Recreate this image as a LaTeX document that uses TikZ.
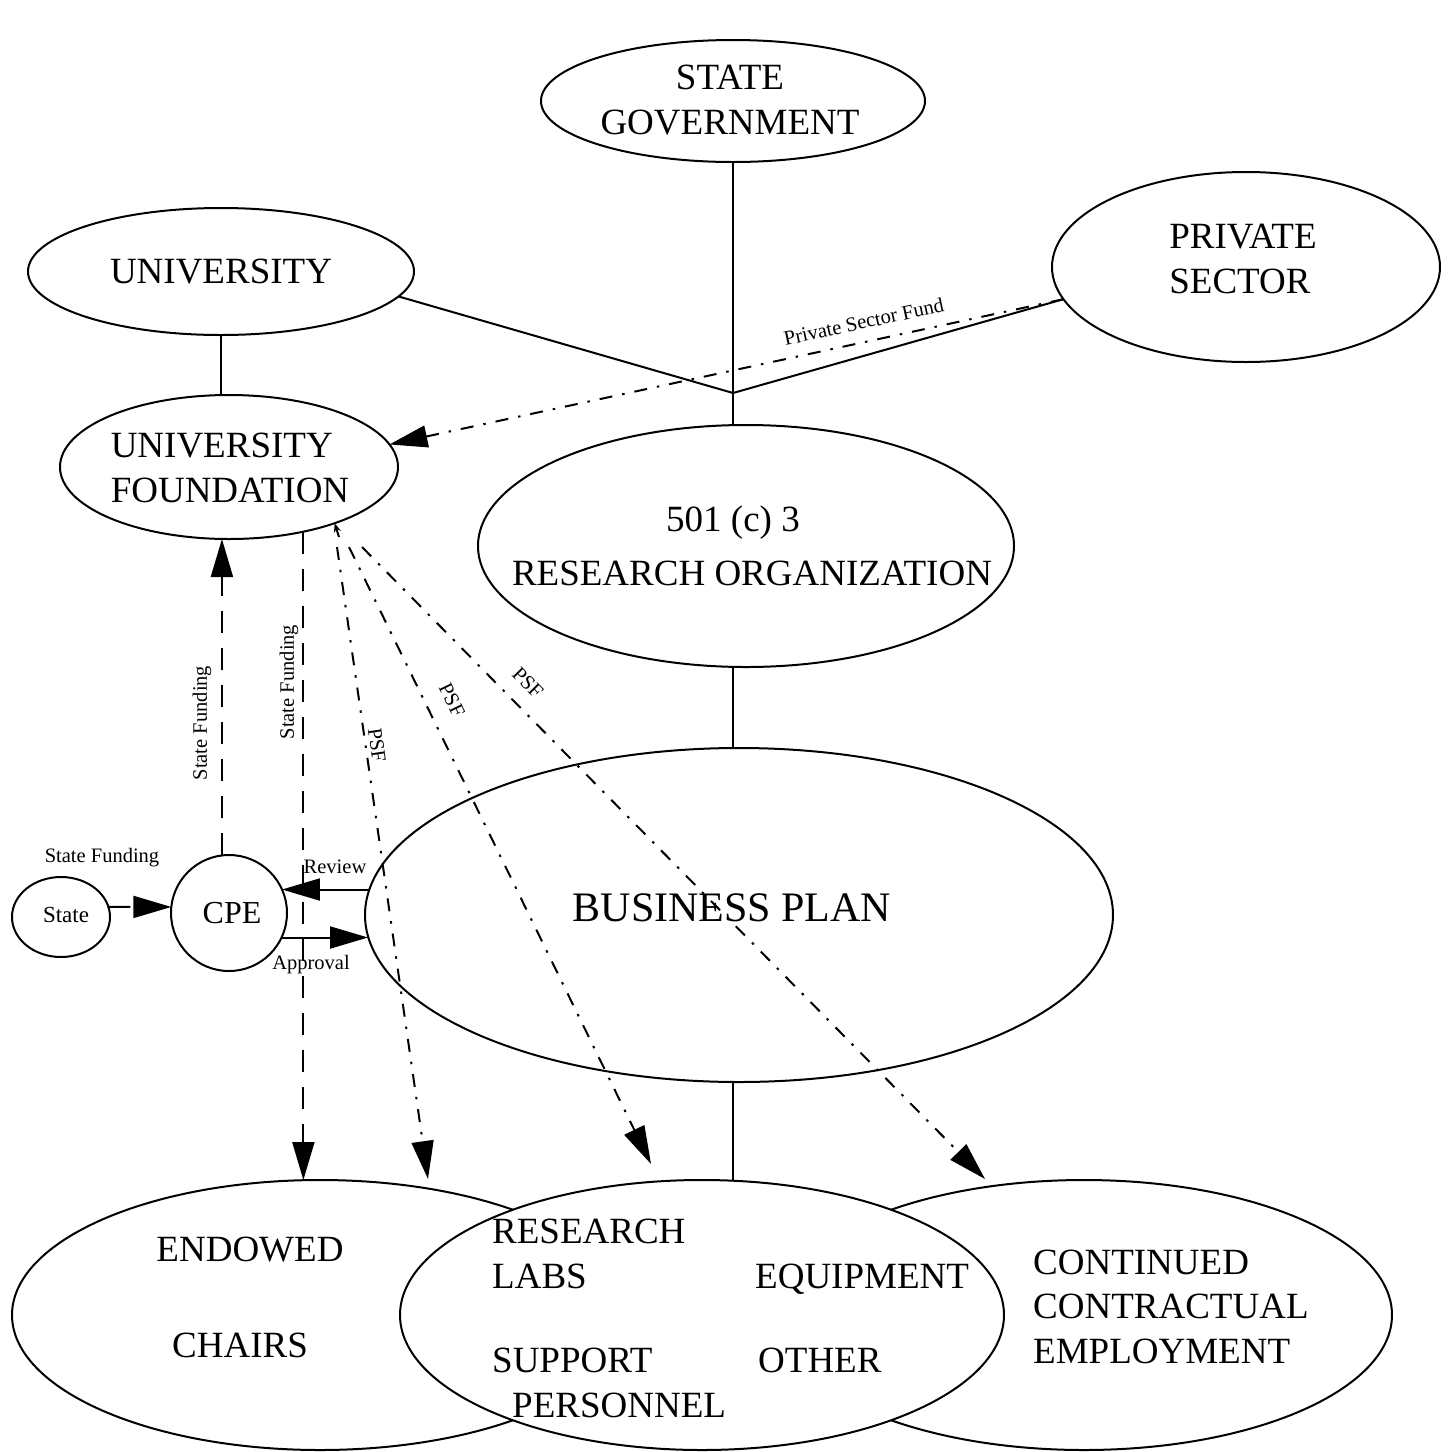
\documentclass[tikz,border=0pt]{standalone}
\usepackage{fontspec}
\setmainfont{Liberation Serif}
\usetikzlibrary{arrows.meta,shapes.geometric}
\begin{document}
\begin{tikzpicture}[x=1pt,y=-1pt,
  oval/.style={draw, ellipse, line width=2pt, inner sep=0pt, outer sep=0pt},
  txt/.style={inner sep=0pt, font=\fontsize{37}{45}\selectfont},
  lbl/.style={inner sep=0pt, font=\fontsize{20.5}{24}\selectfont},
  conn/.style={line width=2pt},
  bigtip/.style={-{Triangle[length=38pt,width=22pt]}},
  sfund/.style={conn, dash pattern=on 22pt off 15pt},
  psfline/.style={conn, dash pattern=on 13pt off 10pt on 2.5pt off 10pt},
]
\path[use as bounding box] (0,0) rectangle (1450,1452);
\clip (0,0) rectangle (1450,1452);

% ---- ellipses ----
\node[oval, minimum width=384pt, minimum height=122pt] (sg) at (733,101) {};
\node[txt, align=center] (sgt) at (730,100) {STATE\\GOVERNMENT};

\node[oval, minimum width=386pt, minimum height=127pt] (univ) at (221,271.5) {};
\node[txt, anchor=base] (univt) at (221,283.5) {UNIVERSITY};

\node[oval, minimum width=388pt, minimum height=190pt] (ps) at (1246,267) {};
\node[txt, align=left] (pst) at (1243,259) {PRIVATE\\SECTOR};

\node[oval, minimum width=338pt, minimum height=144pt] (uf) at (229,467) {};
\node[txt, align=left] (uft) at (230,468) {UNIVERSITY\\FOUNDATION};

\node[oval, minimum width=536pt, minimum height=242pt] (rorg) at (746,546) {};
\node[txt, anchor=base] (rt1) at (733,531) {501 (c) 3};
\node[txt, anchor=base] (rt2) at (752,585) {RESEARCH ORGANIZATION};

\node[oval, minimum width=748pt, minimum height=334pt] (bp) at (739,915) {};
\node[txt, font=\fontsize{42}{48}\selectfont, anchor=base] (bpt) at (732,921) {BUSINESS PLAN};

\node[draw, circle, line width=2pt, minimum size=116pt, inner sep=0pt, outer sep=0pt] (cpe) at (229,913) {};
\node[txt, font=\fontsize{32}{38}\selectfont, anchor=base] (cpet) at (232,923.6) {CPE};

\node[oval, minimum width=98pt, minimum height=80pt] (st) at (61,917) {};
\node[txt, font=\fontsize{23}{28}\selectfont, anchor=base] (stt) at (66,922) {State};

% ---- bottom ellipses ----
\node[oval, minimum width=616pt, minimum height=270pt] (ec) at (320,1315) {};
\node[oval, minimum width=616pt, minimum height=270pt] (ce) at (1084,1315) {};
\node[oval, fill=white, minimum width=604pt, minimum height=270pt] (mid) at (702,1315) {};

\node[txt, anchor=base] (ect1) at (250,1261) {ENDOWED};
\node[txt, anchor=base] (ect2) at (240,1357) {CHAIRS};
\node[txt, anchor=base west] (m1) at (492,1243) {RESEARCH};
\node[txt, anchor=base west] (m2) at (492,1288) {LABS};
\node[txt, anchor=base west] (m3) at (755,1288) {EQUIPMENT};
\node[txt, anchor=base west] (m4) at (492,1372) {SUPPORT};
\node[txt, anchor=base west] (m5) at (758,1372) {OTHER};
\node[txt, anchor=base west] (m6) at (512,1417) {PERSONNEL};
\node[txt, anchor=base west] (c1) at (1033,1274) {CONTINUED};
\node[txt, anchor=base west] (c2) at (1033,1318) {CONTRACTUAL};
\node[txt, anchor=base west] (c3) at (1033,1363) {EMPLOYMENT};

% ---- solid structure lines ----
\coordinate (j) at (733,393);
\draw[conn] (sg) -- (j);
\draw[conn] (univ.-8.2) -- (j);
\draw[conn] (ps.190) -- (j);
\draw[conn] (j) -- (j |- rorg.north);
\draw[conn] (univ.south) -- (univ.south |- uf.north);
\draw[conn] (j |- rorg.south) -- (j |- bp.north);
\draw[conn] (j |- bp.south) -- (j |- mid.north);

% ---- private sector fund ----
\draw[psfline, bigtip] (ps.190) -- (uf.8.4)
  node[lbl, sloped, above=12pt, pos=0.29] (psfl) {Private Sector Fund};

% ---- state funding ----
\draw[sfund, bigtip] (cpe.97) -- (cpe.97 |- uf.south);
\node[lbl, rotate=90] (sf1) at (202,723) {State Funding};
\draw[sfund, bigtip] (uf.-41.6) -- (uf.-41.6 |- ec.north);
\node[lbl, rotate=90] (sf2) at (289,682) {State Funding};
\draw[sfund, bigtip] (st.12) -- (cpe.174);
\node[lbl, anchor=base] (sf3) at (102,862) {State Funding};

% ---- review / approval ----
\coordinate (rv) at (369,889.5);
\coordinate (ap) at (368,937.5);
\draw[conn, bigtip] (rv) -- (rv -| cpe.24);
\node[lbl, anchor=base] (rev) at (335,873) {Review};
\draw[conn, bigtip] (ap -| cpe.-25) -- (ap);
\node[lbl, anchor=base] (app) at (311,969) {Approval};

% ---- PSF lines ----
\coordinate (p0) at (339,537);
\coordinate (p1) at (337,547);
\coordinate (p2) at (349,547);
\coordinate (p3) at (362,547);
\coordinate (t1) at (428,1179);
\coordinate (t2) at (651,1164);
\coordinate (t3) at (985,1179);
\draw[conn, -{Stealth[length=9pt,width=7pt]}] (p0) -- (uf.-28.3);
\draw[psfline, bigtip] (p1) -- (t1);
\draw[psfline, bigtip] (p2) -- (t2);
\draw[psfline, bigtip] (p3) -- (t3);
\node[lbl, rotate=-81.9] (psf1) at (377,745) {PSF};
\node[lbl, rotate=-63.9] (psf2) at (452,700) {PSF};
\node[lbl, rotate=-45.4] (psf3) at (528,683) {PSF};
\end{tikzpicture}
\end{document}
